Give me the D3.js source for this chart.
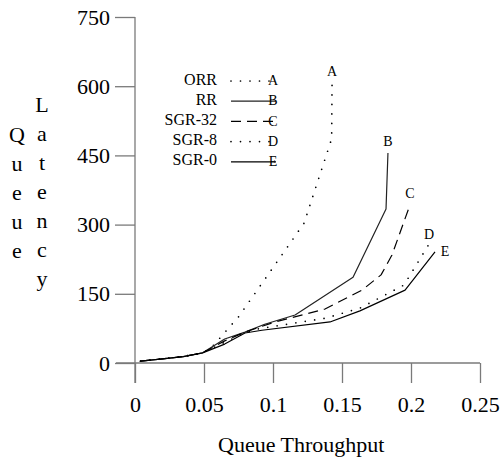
<!DOCTYPE html>
<html>
<head>
<meta charset="utf-8">
<script src="https://cdn.jsdelivr.net/npm/d3@7"></script>
<style>
    body { margin: 0; background: #fff; }
    svg text { font-family: "Liberation Serif", "Times New Roman", serif; }
</style>
</head>
<body>
<div id="chart"></div>
<script>
// values: [throughput, latency]
const orr = [[0.004, 4], [0.02, 9], [0.035, 14], [0.049, 22], [0.055, 32], [0.075, 100], [0.1225, 303], [0.1425, 486], [0.1428, 608]];
const rr = [[0.004, 4], [0.02, 9], [0.035, 14], [0.049, 22], [0.065, 52], [0.0797, 67], [0.094, 84], [0.116, 104], [0.158, 186], [0.1819, 334], [0.1833, 455]];
const sgr32 = [[0.004, 4], [0.02, 9], [0.035, 14], [0.049, 22], [0.065, 48], [0.0797, 67], [0.1014, 89], [0.1377, 117], [0.1645, 158], [0.1783, 191], [0.1862, 234], [0.1993, 343]];
const sgr8 = [[0.004, 4], [0.02, 9], [0.035, 14], [0.049, 22], [0.065, 45], [0.0797, 65], [0.089, 74], [0.1377, 97], [0.163, 119], [0.1949, 169], [0.2123, 254]];
const sgr0 = [[0.004, 4], [0.02, 9], [0.035, 14], [0.049, 22], [0.065, 41], [0.0797, 65], [0.092, 71], [0.1413, 89], [0.163, 113], [0.1957, 158], [0.2174, 241]];

const seriesNames = ['ORR', 'RR', 'SGR-32', 'SGR-8', 'SGR-0'];
const seriesLetters = ['A', 'B', 'C', 'D', 'E'];
const seriesValues = [orr, rr, sgr32, sgr8, sgr0];

const xTicks = [0, 0.05, 0.1, 0.15, 0.2, 0.25];
const xTickLabels = ['0', '0.05', '0.1', '0.15', '0.2', '0.25'];
const yTicks = [0, 150, 300, 450, 600, 750];

const width = 501, height = 461;
const axisColor = '#7a7a7a';
const serif = '"Liberation Serif", "Times New Roman", serif';

// line look for each series
const styles = [
    { dash: '0,9.5', cap: 'round', w: 1.7, color: '#000' },
    { dash: null, cap: 'butt', w: 1.2, color: '#222' },
    { dash: '10,6', cap: 'butt', w: 1.2, color: '#000' },
    { dash: '0,9.5', cap: 'round', w: 1.7, color: '#000' },
    { dash: null, cap: 'butt', w: 1.2, color: '#000' }
];
// where the end letter sits relative to the last point
const labelOffsets = [[0, -10], [0, -10], [0, -10], [1, -10], [10, 1]];

const x = d3.scaleLinear().domain([0, 0.25]).range([135, 480]);
const y = d3.scaleLinear().domain([0, 750]).range([363, 17]);

const svg = d3.select('#chart')
    .append('svg')
    .attr('width', width)
    .attr('height', height)
    .style('display', 'block');

// axes
const xAxis = svg.append('g')
    .attr('transform', `translate(0,${y(0)})`)
    .call(d3.axisBottom(x).tickValues(xTicks).tickFormat((d, i) => xTickLabels[i])
        .tickSize(20).tickSizeOuter(0).tickPadding(13));

const yAxis = svg.append('g')
    .attr('transform', `translate(${x(0)},0)`)
    .call(d3.axisLeft(y).tickValues(yTicks).tickFormat(d3.format('d'))
        .tickSize(20).tickSizeOuter(0).tickPadding(5));

[xAxis, yAxis].forEach(g => {
    g.attr('font-family', serif).attr('font-size', 22);
    g.select('.domain').remove();
    g.selectAll('.tick line').attr('stroke', axisColor).attr('stroke-width', 1.3);
    g.selectAll('.tick text').attr('fill', '#000');
});

// axis lines cross and run past each other
svg.append('line')
    .attr('x1', x(0) - 19).attr('x2', x(0.25))
    .attr('y1', y(0)).attr('y2', y(0))
    .attr('stroke', axisColor).attr('stroke-width', 1.3);
svg.append('line')
    .attr('x1', x(0)).attr('x2', x(0))
    .attr('y1', y(750)).attr('y2', y(0) + 20)
    .attr('stroke', axisColor).attr('stroke-width', 1.3);

// curves
const line = d3.line().x(d => x(d[0])).y(d => y(d[1]));

seriesValues.forEach((vals, i) => {
    const st = styles[i];
    svg.append('path')
        .datum(vals)
        .attr('d', line)
        .attr('fill', 'none')
        .attr('stroke', st.color)
        .attr('stroke-width', st.w)
        .attr('stroke-linecap', st.cap)
        .attr('stroke-linejoin', 'round')
        .attr('stroke-dasharray', st.dash);

    const last = vals[vals.length - 1];
    svg.append('text')
        .attr('x', x(last[0]) + labelOffsets[i][0])
        .attr('y', y(last[1]) + labelOffsets[i][1])
        .attr('text-anchor', 'middle')
        .attr('dominant-baseline', 'middle')
        .attr('font-size', '14px')
        .text(seriesLetters[i]);
});

// legend
const legend = svg.append('g');
seriesNames.forEach((name, i) => {
    const st = styles[i];
    const ly = 81 + i * 20.2;
    legend.append('text')
        .attr('x', 217)
        .attr('y', ly)
        .attr('text-anchor', 'end')
        .attr('dominant-baseline', 'middle')
        .attr('font-size', '16px')
        .text(name);
    legend.append('line')
        .attr('x1', 231).attr('x2', 276)
        .attr('y1', ly).attr('y2', ly)
        .attr('stroke', st.color)
        .attr('stroke-width', st.w)
        .attr('stroke-linecap', st.cap)
        .attr('stroke-dasharray', st.dash);
    legend.append('text')
        .attr('x', 273)
        .attr('y', ly + 1)
        .attr('text-anchor', 'middle')
        .attr('dominant-baseline', 'middle')
        .attr('font-size', '14px')
        .text(seriesLetters[i]);
});

// axis titles
svg.append('text')
    .attr('x', 218)
    .attr('y', 452)
    .attr('font-size', '22px')
    .text('Queue Throughput');

// y title is written as two stacked columns of letters
const yTitleCols = [{ word: 'Queue', cx: 17, top: 135 }, { word: 'Latency', cx: 42, top: 105 }];
yTitleCols.forEach(col => {
    svg.append('g').selectAll('text')
        .data(col.word.split(''))
        .enter()
        .append('text')
        .attr('x', col.cx)
        .attr('y', (d, i) => col.top + i * 29 + 7)
        .attr('text-anchor', 'middle')
        .attr('font-size', '22px')
        .text(d => d);
});
</script>
</body>
</html>
